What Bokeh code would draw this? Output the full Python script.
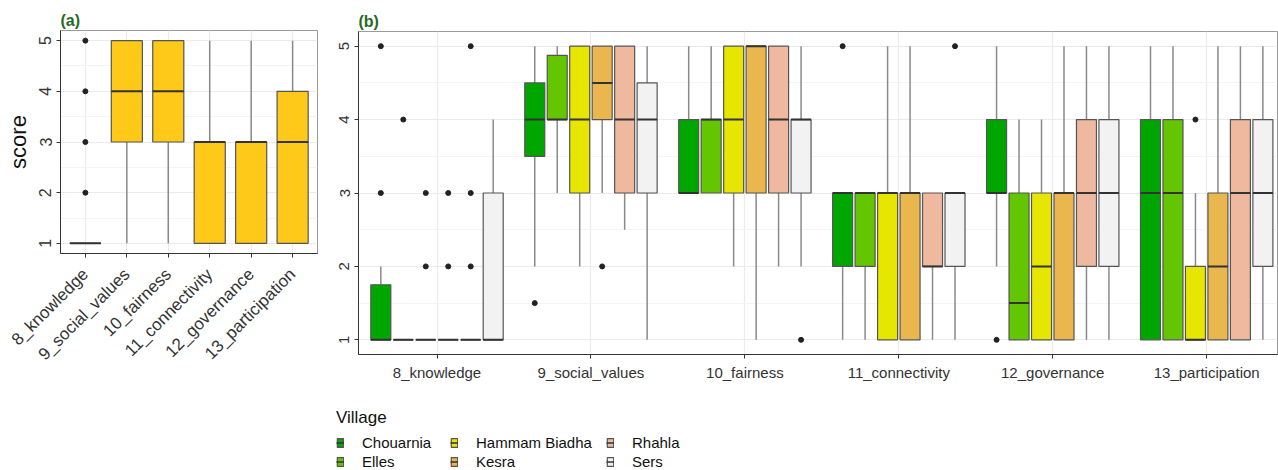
import numpy as np
from bokeh.plotting import figure
from bokeh.models import (Range1d, FixedTicker, ColumnDataSource, Legend, LegendItem)
from bokeh.layouts import row, column
from bokeh.embed import file_html
from bokeh.resources import INLINE
from bokeh.transform import dodge

FONT = "Liberation Sans"

# ---------------- data ----------------
indicators = ["8_knowledge", "9_social_values", "10_fairness",
              "11_connectivity", "12_governance", "13_participation"]
y_ticks = [1, 2, 3, 4, 5]

# panel (a): all villages pooled
a_q1 = [1, 3, 3, 1, 1, 1]
a_med = [1, 4, 4, 3, 3, 3]
a_q3 = [1, 5, 5, 3, 3, 4]
a_lo = [1, 1, 1, 1, 1, 1]
a_hi = [1, 5, 5, 5, 5, 5]
a_out_indicator = ["8_knowledge", "8_knowledge", "8_knowledge", "8_knowledge"]
a_out_value = [2, 3, 4, 5]

# panel (b): by village
villages = ["Chouarnia", "Elles", "Hammam Biadha", "Kesra", "Rhahla", "Sers"]
village_colors = ["#00A600", "#63C600", "#E6E600", "#EAB64E", "#EEB99F", "#F2F2F2"]

b_q1 = {
    "Chouarnia":     [1, 3.5, 3, 2, 3, 1],
    "Elles":         [1, 4,   3, 2, 1, 1],
    "Hammam Biadha": [1, 3,   3, 1, 1, 1],
    "Kesra":         [1, 4,   3, 1, 1, 1],
    "Rhahla":        [1, 3,   3, 2, 2, 1],
    "Sers":          [1, 3,   3, 2, 2, 2],
}
b_med = {
    "Chouarnia":     [1, 4,   3, 3, 3,   3],
    "Elles":         [1, 4,   4, 3, 1.5, 3],
    "Hammam Biadha": [1, 4,   4, 3, 2,   1],
    "Kesra":         [1, 4.5, 5, 3, 3,   2],
    "Rhahla":        [1, 4,   4, 2, 3,   3],
    "Sers":          [1, 4,   4, 3, 3,   3],
}
b_q3 = {
    "Chouarnia":     [1.75, 4.5,   4, 3, 4, 4],
    "Elles":         [1,    4.875, 4, 3, 3, 4],
    "Hammam Biadha": [1,    5,     5, 3, 3, 2],
    "Kesra":         [1,    5,     5, 3, 3, 3],
    "Rhahla":        [1,    5,     5, 3, 4, 4],
    "Sers":          [3,    4.5,   4, 3, 4, 4],
}
b_lo = {
    "Chouarnia":     [1, 2,   3, 1, 2, 1],
    "Elles":         [1, 3,   3, 1, 1, 1],
    "Hammam Biadha": [1, 2,   2, 1, 1, 1],
    "Kesra":         [1, 3,   1, 1, 1, 1],
    "Rhahla":        [1, 2.5, 2, 1, 1, 1],
    "Sers":          [1, 1,   2, 1, 1, 1],
}
b_hi = {
    "Chouarnia":     [2, 5, 5, 3, 5, 5],
    "Elles":         [1, 5, 5, 3, 4, 5],
    "Hammam Biadha": [1, 5, 5, 5, 4, 3],
    "Kesra":         [1, 5, 5, 5, 5, 5],
    "Rhahla":        [1, 5, 5, 3, 5, 5],
    "Sers":          [4, 5, 5, 3, 5, 5],
}
b_out_village = ["Chouarnia", "Chouarnia", "Chouarnia", "Chouarnia", "Chouarnia",
                 "Elles", "Hammam Biadha", "Hammam Biadha", "Kesra", "Kesra", "Kesra",
                 "Rhahla", "Rhahla", "Rhahla", "Sers", "Sers", "Hammam Biadha"]
b_out_indicator = ["8_knowledge", "8_knowledge", "9_social_values", "11_connectivity", "12_governance",
                   "8_knowledge", "8_knowledge", "8_knowledge", "8_knowledge", "8_knowledge", "9_social_values",
                   "8_knowledge", "8_knowledge", "8_knowledge", "10_fairness", "11_connectivity",
                   "13_participation"]
b_out_value = [3, 5, 1.5, 5, 1,
               4, 2, 3, 2, 3, 2,
               2, 3, 5, 1, 5,
               4]

# ---------------- styling ----------------
WHISK = "#8a8a8a"
GRID = "#EBEBEB"
MINOR = "#F4F4F4"
TITLE_GREEN = "#1F6B1F"
pos = {name: i + 1 for i, name in enumerate(indicators)}


def style(p, tick_font):
    p.background_fill_color = "white"
    p.border_fill_color = "white"
    p.outline_line_color = "#9a9a9a"
    p.outline_line_width = 1
    for ax in (p.xaxis[0], p.yaxis[0]):
        ax.axis_line_color = "#333333"
        ax.axis_line_width = 1
        ax.major_tick_line_color = "#333333"
        ax.major_tick_out = 4
        ax.major_tick_in = 0
        ax.minor_tick_line_color = None
        ax.major_label_text_font = FONT
        ax.major_label_text_color = "#333333"
        ax.major_label_text_font_size = tick_font
        ax.axis_label_text_font = FONT
        ax.axis_label_text_font_style = "normal"
    p.yaxis[0].ticker = FixedTicker(ticks=y_ticks, minor_ticks=[1.5, 2.5, 3.5, 4.5])
    p.xaxis[0].ticker = FixedTicker(ticks=[pos[c] for c in indicators])
    p.xaxis[0].major_label_overrides = {pos[c]: c for c in indicators}
    p.yaxis[0].major_label_orientation = "vertical"
    p.xgrid.grid_line_color = GRID
    p.ygrid.grid_line_color = GRID
    p.ygrid.minor_grid_line_color = MINOR
    p.xgrid.grid_line_width = 1.2
    p.ygrid.grid_line_width = 1.2
    p.title.text_font = FONT
    p.title.text_font_style = "bold"
    p.title.text_color = TITLE_GREEN
    p.title.text_font_size = "16px"
    p.title.standoff = 4


# ---------------- panel (a) ----------------
p1 = figure(width=330, height=30 + 223 + 122, x_range=Range1d(0.4, 6.6), y_range=Range1d(0.8, 5.2),
            output_backend="svg", toolbar_location=None, title="(a)",
            min_border_left=60, min_border_right=13, min_border_top=30, min_border_bottom=122)
style(p1, "17px")
p1.yaxis[0].axis_label = "score"
p1.yaxis[0].axis_label_text_font_size = "22px"
p1.yaxis[0].axis_label_text_color = "#111111"
p1.yaxis[0].axis_label_standoff = 6
p1.yaxis[0].major_label_text_font_size = "16px"
p1.xaxis[0].major_label_orientation = np.pi / 4
p1.xaxis[0].major_label_standoff = 14

src_a = ColumnDataSource(dict(x=[pos[c] for c in indicators], q1=a_q1, med=a_med, q3=a_q3, lo=a_lo, hi=a_hi))
wa = 0.75
p1.segment(x0="x", y0="q3", x1="x", y1="hi", source=src_a, line_color=WHISK, line_width=1.5)
p1.segment(x0="x", y0="lo", x1="x", y1="q1", source=src_a, line_color=WHISK, line_width=1.5)
p1.vbar(x="x", width=wa, top="q3", bottom="q1", source=src_a,
        fill_color="#FFC919", line_color="#555555", line_width=1.2)
p1.segment(x0=dodge("x", -wa / 2), y0="med", x1=dodge("x", wa / 2), y1="med", source=src_a,
           line_color="#333333", line_width=2)
src_ao = ColumnDataSource(dict(x=[pos[c] for c in a_out_indicator], y=a_out_value))
p1.scatter(x="x", y="y", source=src_ao, size=5, fill_color="#222222", line_color="#222222")

# ---------------- panel (b) ----------------
p2 = figure(width=948, height=31 + 323 + 36, x_range=Range1d(0.49, 6.46), y_range=Range1d(0.8, 5.2),
            output_backend="svg", toolbar_location=None, title="(b)",
            min_border_left=28, min_border_right=1, min_border_top=31, min_border_bottom=36)
style(p2, "15px")

slot = 0.146
bw = 0.13
for j, (v, col) in enumerate(zip(villages, village_colors)):
    off = (j - 2.5) * slot
    src = ColumnDataSource(dict(x=[pos[c] for c in indicators], q1=b_q1[v], med=b_med[v],
                                q3=b_q3[v], lo=b_lo[v], hi=b_hi[v]))
    p2.segment(x0=dodge("x", off), y0="q3", x1=dodge("x", off), y1="hi", source=src,
               line_color=WHISK, line_width=1.5)
    p2.segment(x0=dodge("x", off), y0="lo", x1=dodge("x", off), y1="q1", source=src,
               line_color=WHISK, line_width=1.5)
    p2.vbar(x=dodge("x", off), width=bw, top="q3", bottom="q1", source=src,
            fill_color=col, line_color="#555555", line_width=1.2)
    p2.segment(x0=dodge("x", off - bw / 2), y0="med", x1=dodge("x", off + bw / 2), y1="med",
               source=src, line_color="#333333", line_width=2)
    idx = [k for k, ov in enumerate(b_out_village) if ov == v]
    osrc = ColumnDataSource(dict(x=[pos[b_out_indicator[k]] for k in idx], y=[b_out_value[k] for k in idx]))
    p2.scatter(x=dodge("x", off), y="y", source=osrc, size=5, fill_color="#222222", line_color="#222222")

# ---------------- legend strip under panel (b) ----------------
p3 = figure(width=948, height=80, x_range=Range1d(0, 1), y_range=Range1d(0, 1),
            output_backend="svg", toolbar_location=None, x_axis_type=None, y_axis_type=None,
            min_border_left=0, min_border_right=0, min_border_top=0, min_border_bottom=0)
p3.grid.visible = False
p3.outline_line_color = None
items = []
for v, col in zip(villages, village_colors):
    key_src = ColumnDataSource(dict(x=[np.nan], top=[np.nan], bottom=[np.nan], y=[np.nan]))
    kb = p3.vbar(x="x", width=0.1, top="top", bottom="bottom", source=key_src,
                 fill_color=col, line_color="#555555", line_width=1.2)
    km = p3.segment(x0="x", y0="y", x1="x", y1="y", source=key_src, line_color="#333333", line_width=1.5)
    items.append(LegendItem(label=v, renderers=[kb, km]))

common = dict(orientation="vertical", label_text_font=FONT, label_text_font_size="15px",
              label_text_color="#111111", glyph_width=8, glyph_height=11, label_standoff=18,
              label_height=14, spacing=2, padding=0, margin=0, border_line_alpha=0,
              background_fill_alpha=0)
leg_x = [6, 120, 276]
for c in range(3):
    kw = dict(common)
    if c == 0:
        kw.update(title="Village", title_text_font=FONT, title_text_font_size="17px",
                  title_text_font_style="normal", title_text_color="#111111", title_standoff=6)
    p3.add_layout(Legend(items=items[2 * c:2 * c + 2], location=(leg_x[c], 0), **kw))

layout = row(p1, column(p2, row(p3)))
open("out.html", "w").write(file_html(layout, INLINE))
